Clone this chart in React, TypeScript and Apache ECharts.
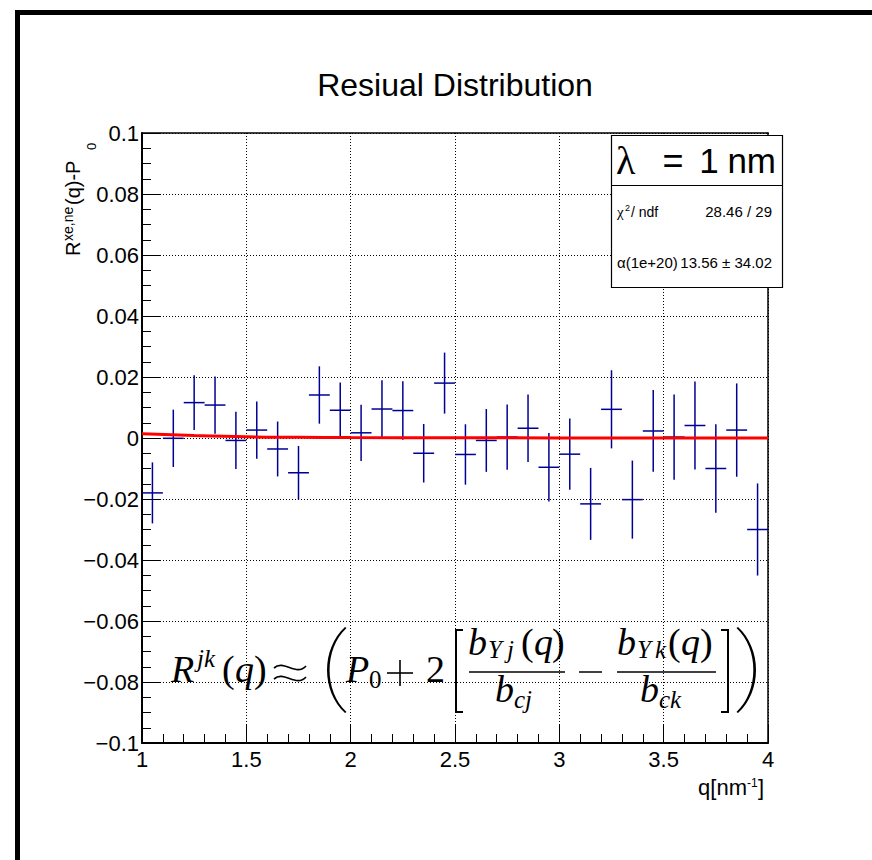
import React, { useEffect, useRef } from "react";
import * as echarts from "echarts";

// ---------- data ----------
const qCenters = [
  1.05, 1.15, 1.25, 1.35, 1.45, 1.55, 1.65, 1.75, 1.85, 1.95,
  2.05, 2.15, 2.25, 2.35, 2.45, 2.55, 2.65, 2.75, 2.85, 2.95,
  3.05, 3.15, 3.25, 3.35, 3.45, 3.55, 3.65, 3.75, 3.85, 3.95,
];
const residuals = [
  -0.018, -0.0001, 0.0116, 0.0108, -0.0008, 0.0026, -0.0036, -0.0114, 0.0141, 0.0091,
  0.0017, 0.0095, 0.009, -0.005, 0.018, -0.0054, -0.0008, 0.0003, 0.0032, -0.0096,
  -0.0053, -0.0216, 0.0094, -0.0202, 0.0023, 0.0003, 0.0041, -0.01, 0.0026, -0.030,
];
const errors = [
  0.010, 0.0094, 0.009, 0.0094, 0.0094, 0.0094, 0.009, 0.0088, 0.0094, 0.0091,
  0.0092, 0.0094, 0.0096, 0.0096, 0.010, 0.0099, 0.0103, 0.0107, 0.0111, 0.0112,
  0.0117, 0.0118, 0.0128, 0.0128, 0.0134, 0.014, 0.0144, 0.0145, 0.0153, 0.0151,
];
const binWidth = 0.1;
const fitQ = [1, 1.25, 1.5, 1.75, 2, 2.5, 3, 3.5, 4];
const fitValues = [0.0014, 0.0008, 0.0004, 0.00025, 0.00015, 0.00008, 0.00004, 0.00002, 0.00001];

const xMin = 1, xMax = 4, xStep = 0.5;
const yMin = -0.1, yMax = 0.1, yStep = 0.02;

const titleText = "Resiual Distribution";
const legendTitle = ["λ", "=", "1", "nm"];
const chi2Value = "28.46 / 29";
const alphaLabel = "α(1e+20)";
const alphaValue = "13.56 ± 34.02";

// ---------- shapes ----------
echarts.graphic.registerShape(
  "lparen",
  echarts.graphic.extendPath(
    "M18 0 C-6 22 -6 64 18 86 L19.5 85 C-3 64 -3 22 19.5 1 Z",
    {}
  ) as any
);
echarts.graphic.registerShape(
  "rparen",
  echarts.graphic.extendPath(
    "M0 0 C24 22 24 64 0 86 L-1.5 85 C21 64 21 22 -1.5 1 Z",
    {}
  ) as any
);

const SANS = "Liberation Sans";
const SERIF = "Liberation Serif";

const fmtY = (v: number) => {
  const r = Math.round(v * 1000) / 1000;
  if (r === 0) return "0";
  return (r < 0 ? "\u2212" : "") + String(Math.abs(r));
};
const fmtX = (v: number) => String(Math.round(v * 10) / 10);

function t(
  text: string,
  x: number,
  y: number,
  size: number,
  opts: any = {}
): any {
  return {
    type: "text",
    x,
    y,
    z: 100,
    ...(opts.el || {}),
    style: {
      text,
      fontSize: size,
      fontFamily: opts.family || SANS,
      fontStyle: opts.italic ? "italic" : "normal",
      fill: "#000",
      align: opts.align || "left",
      verticalAlign: "middle",
    },
  };
}

// baseline -> middle
const mS = (b: number, f: number) => b - 0.34 * f;

function wave(x0: number, y0: number): any {
  return {
    type: "bezierCurve",
    z: 100,
    shape: { x1: x0, y1: y0 + 1, cpx1: x0 + 10, cpy1: y0 - 8, cpx2: x0 + 22, cpy2: y0 + 10, x2: x0 + 32, y2: y0 - 1 },
    style: { stroke: "#000", lineWidth: 1.7, fill: null },
  };
}

function formulaElements(): any[] {
  const F = 38, f = 25;
  const it = { family: SERIF, italic: true };
  const rm = { family: SERIF };
  const els: any[] = [];
  // R^{jk}(q)
  els.push(t("R", 171, mS(682, F), F, it));
  els.push(t("jk", 197, mS(667, f), f, it));
  els.push(t("(", 222, mS(682, F), F, rm));
  els.push(t("q", 235, mS(682, F), F, it));
  els.push(t(")", 254, mS(682, F), F, rm));
  // approx
  els.push(wave(274, 667));
  els.push(wave(274, 678));
  els.push({ type: "lparen", x: 327, y: 627, z: 100, style: { fill: "#000" } });
  els.push(t("P", 346, mS(682, F), F, it));
  els.push(t("0", 369, mS(688, f), f, rm));
  // plus
  els.push({ type: "line", z: 100, shape: { x1: 387, y1: 673, x2: 413, y2: 673 }, style: { stroke: "#000", lineWidth: 1.6 } });
  els.push({ type: "line", z: 100, shape: { x1: 400, y1: 660, x2: 400, y2: 686 }, style: { stroke: "#000", lineWidth: 1.6 } });
  els.push(t("2", 426, mS(682, F), F, rm));
  // [
  els.push({ type: "polyline", z: 100, shape: { points: [[463, 630], [456, 630], [456, 712], [463, 712]] }, style: { stroke: "#000", lineWidth: 2, fill: null } });
  // fraction 1
  els.push(t("b", 468, mS(655, F), F, it));
  els.push(t("Y", 488, mS(658, f), f, it));
  els.push(t("j", 507, mS(658, f), f, it));
  els.push(t("(", 521, mS(655, F), F, rm));
  els.push(t("q", 534, mS(655, F), F, it));
  els.push(t(")", 552, mS(655, F), F, rm));
  els.push({ type: "line", z: 100, shape: { x1: 469, y1: 672, x2: 565, y2: 672 }, style: { stroke: "#000", lineWidth: 1.5 } });
  els.push(t("b", 495, mS(702, F), F, it));
  els.push(t("cj", 514, mS(708, f), f, it));
  // minus
  els.push({ type: "line", z: 100, shape: { x1: 579, y1: 672, x2: 602, y2: 672 }, style: { stroke: "#000", lineWidth: 1.5 } });
  // fraction 2
  els.push(t("b", 617, mS(655, F), F, it));
  els.push(t("Y", 637, mS(658, f), f, it));
  els.push(t("k", 655, mS(658, f), f, it));
  els.push(t("(", 668, mS(655, F), F, rm));
  els.push(t("q", 681, mS(655, F), F, it));
  els.push(t(")", 700, mS(655, F), F, rm));
  els.push({ type: "line", z: 100, shape: { x1: 617, y1: 672, x2: 716, y2: 672 }, style: { stroke: "#000", lineWidth: 1.5 } });
  els.push(t("b", 640, mS(702, F), F, it));
  els.push(t("ck", 659, mS(708, f), f, it));
  // ]
  els.push({ type: "polyline", z: 100, shape: { points: [[721, 630], [728, 630], [728, 712], [721, 712]] }, style: { stroke: "#000", lineWidth: 2, fill: null } });
  els.push({ type: "rparen", x: 738, y: 627, z: 100, style: { fill: "#000" } });
  return els;
}

function statsBox(): any[] {
  const els: any[] = [];
  els.push({ type: "rect", z: 99, shape: { x: 611.5, y: 135.5, width: 171, height: 152 }, style: { fill: "#fff", stroke: "#000", lineWidth: 1.2 } });
  els.push({ type: "line", z: 100, shape: { x1: 611.5, y1: 185.5, x2: 782.5, y2: 185.5 }, style: { stroke: "#000", lineWidth: 1.2 } });
  els.push(t(legendTitle[0], 616, 160, 40, { family: SERIF }));
  els.push(t(legendTitle[1], 673, 160, 36, { align: "center" }));
  els.push(t(legendTitle[2], 709, 160, 35, { align: "center" }));
  els.push(t(legendTitle[3], 776, 160, 35, { align: "right" }));
  els.push(t("χ", 617, mS(217, 15), 15, { family: SERIF }));
  els.push(t("2", 625, mS(211, 9), 9));
  els.push(t("/ ndf", 631, mS(217, 14), 14));
  els.push(t(chi2Value, 772, mS(217, 15), 15, { align: "right" }));
  els.push(t(alphaLabel, 617, mS(268, 15), 15));
  els.push(t(alphaValue, 772, mS(268, 15), 15, { align: "right" }));
  return els;
}

function yTitle(): any[] {
  const F = 20;
  return [
    {
      type: "group",
      x: 80,
      y: 256,
      rotation: Math.PI / 2,
      z: 100,
      children: [
        t("R", 0, -0.34 * F, F),
        t("xe,ne", 15, -7 - 0.34 * 14, 14),
        t("(q)-P", 51, -0.34 * F, F),
        t("0", 106, 16 - 0.34 * 13, 13),
      ],
    },
  ];
}

function xTitle(): any[] {
  return [
    t("q[nm", 747, mS(795, 22), 22, { align: "right" }),
    t("-1", 747, mS(787, 12), 12),
    t("]", 758, mS(795, 22), 22),
  ];
}

export default function App() {
  const ref = useRef<HTMLDivElement>(null);
  useEffect(() => {
    if (!ref.current) return;
    const chart = echarts.init(ref.current, undefined, { renderer: "svg" });
    const dotted = { type: [1, 2] as any, color: "#000", width: 1 };
    const option: any = {
      animation: false,
      backgroundColor: "#fff",
      grid: { left: 142, right: 104, top: 133, bottom: 117, containLabel: false },
      xAxis: [
        {
          type: "value",
          min: xMin,
          max: xMax,
          interval: xStep,
          position: "bottom",
          axisLine: { show: true, onZero: false, lineStyle: { color: "#000", width: 2 } },
          axisTick: { show: true, inside: true, length: 18, lineStyle: { color: "#000", width: 1 } },
          minorTick: { show: true, splitNumber: 5, length: 9, lineStyle: { color: "#000", width: 1 } },
          axisLabel: { margin: 5, color: "#000", fontSize: 22, fontFamily: SANS, formatter: fmtX },
          splitLine: { show: true, lineStyle: dotted },
        },
        {
          type: "value",
          min: xMin,
          max: xMax,
          position: "top",
          axisLine: { show: true, onZero: false, lineStyle: { color: "#000", width: 1.5 } },
          axisTick: { show: false },
          axisLabel: { show: false },
          splitLine: { show: false },
        },
      ],
      yAxis: [
        {
          type: "value",
          min: yMin,
          max: yMax,
          interval: yStep,
          position: "left",
          axisLine: { show: true, onZero: false, lineStyle: { color: "#000", width: 2 } },
          axisTick: { show: true, inside: true, length: 18, lineStyle: { color: "#000", width: 1 } },
          minorTick: { show: true, splitNumber: 4, length: 9, lineStyle: { color: "#000", width: 1 } },
          axisLabel: { margin: 3, color: "#000", fontSize: 22, fontFamily: SANS, formatter: fmtY },
          splitLine: { show: true, lineStyle: dotted },
        },
        {
          type: "value",
          min: yMin,
          max: yMax,
          position: "right",
          axisLine: { show: true, onZero: false, lineStyle: { color: "#000", width: 1.5 } },
          axisTick: { show: false },
          axisLabel: { show: false },
          splitLine: { show: false },
        },
      ],
      series: [
        {
          type: "custom",
          xAxisIndex: 0,
          yAxisIndex: 0,
          z: 2,
          data: qCenters.map((q, i) => [q, residuals[i], errors[i]]),
          encode: { x: 0, y: 1 },
          renderItem: (_p: any, api: any) => {
            const x = api.value(0), y = api.value(1), e = api.value(2);
            const l = api.coord([x - binWidth / 2, y]);
            const r = api.coord([x + binWidth / 2, y]);
            const tp = api.coord([x, y + e]);
            const bt = api.coord([x, y - e]);
            const st = { stroke: "#000095", lineWidth: 1.5 };
            return {
              type: "group",
              children: [
                { type: "line", shape: { x1: l[0], y1: l[1], x2: r[0], y2: r[1] }, style: st },
                { type: "line", shape: { x1: tp[0], y1: tp[1], x2: bt[0], y2: bt[1] }, style: st },
              ],
            };
          },
        },
        {
          type: "line",
          xAxisIndex: 0,
          yAxisIndex: 0,
          z: 3,
          smooth: true,
          symbol: "none",
          data: fitQ.map((q, i) => [q, fitValues[i]]),
          lineStyle: { color: "#ff0000", width: 3 },
        },
      ],
      graphic: [
        { type: "rect", z: 100, shape: { x: 17.5, y: 12.5, width: 1000, height: 1000 }, style: { fill: null, stroke: "#000", lineWidth: 5 } },
        t(titleText, 455, 85, 32, { align: "center" }),
        ...statsBox(),
        ...formulaElements(),
        ...yTitle(),
        ...xTitle(),
      ],
    };
    chart.setOption(option);
    return () => chart.dispose();
  }, []);
  return (
    <div
      ref={ref}
      style={{ position: "absolute", left: 0, top: 0, width: 872, height: 860 }}
    />
  );
}
